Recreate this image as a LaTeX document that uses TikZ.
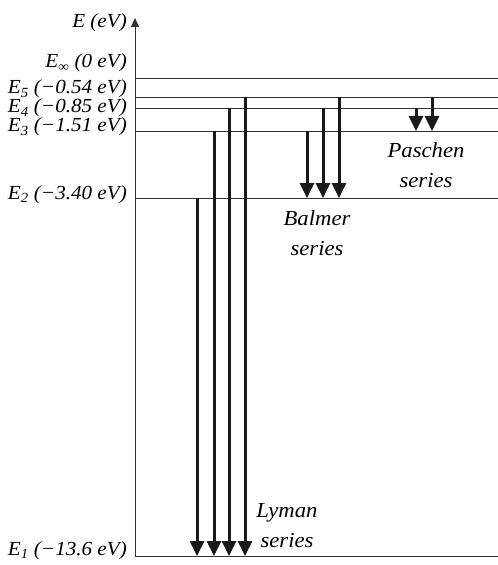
\documentclass[tikz,border=0pt]{standalone}
\usepackage{fontspec}
\setmainfont{Liberation Serif}
\newfontfamily\diafont[FakeStretch=1.06]{Liberation Serif}
\usetikzlibrary{arrows.meta}

\begin{document}
\begin{tikzpicture}[
  x=1bp, y=-1bp,
  level/.style={line width=0.9bp, black!80},
  axis/.style={line width=0.9bp, black!80, -{Triangle[length=9bp, width=8bp]}},
  trans/.style={line width=3bp, black!90, -{Triangle[length=15bp, width=14bp]}},
  lbl/.style={anchor=base east, inner sep=0pt, text=black, font=\diafont\fontsize{20}{24}\selectfont\itshape},
  series/.style={align=center, inner sep=0pt, text=black, font=\diafont\fontsize{21.5}{30}\selectfont\itshape}
]
\useasboundingbox (0,0) rectangle (498,565);

% energy levels
\coordinate (O) at (135,556);
\coordinate (Top) at (135,18);
\coordinate (Einf) at (135,78);
\coordinate (E5) at (135,97);
\coordinate (E4) at (135,108);
\coordinate (E3) at (135,131);
\coordinate (E2) at (135,198);
\coordinate (E1) at (135,556);
\coordinate (R) at (498,0);
\foreach \e in {Einf, E5, E4, E3, E2, E1} {
  \draw[level] (\e) -- (\e -| R);
}
\draw[axis] (O) -- (Top);

% labels
\node[lbl] (lE) at (127,28) {E (eV)};
\node[lbl] (lEinf) at (127,68) {E\textsubscript{∞} (0 eV)};
\node[lbl] (lE5) at (127,94) {E\textsubscript{5} (−0.54 eV)};
\node[lbl] (lE4) at (127,113) {E\textsubscript{4} (−0.85 eV)};
\node[lbl] (lE3) at (127,132) {E\textsubscript{3} (−1.51 eV)};
\node[lbl] (lE2) at (127,199) {E\textsubscript{2} (−3.40 eV)};
\node[lbl] (lE1) at (127,555) {E\textsubscript{1} (−13.6 eV)};

% transitions
\coordinate (ly2) at (197,0);
\coordinate (ly3) at (214,0);
\coordinate (ly4) at (229,0);
\coordinate (ly5) at (245,0);
\coordinate (ba3) at (307,0);
\coordinate (ba4) at (323,0);
\coordinate (ba5) at (339,0);
\coordinate (pa4) at (416,0);
\coordinate (pa5) at (432,0);
\foreach \c/\u in {ly2/E2, ly3/E3, ly4/E4, ly5/E5} {
  \draw[trans] (\c |- \u) -- (\c |- E1);
}
\foreach \c/\u in {ba3/E3, ba4/E4, ba5/E5} {
  \draw[trans] (\c |- \u) -- (\c |- E2);
}
\foreach \c/\u in {pa4/E4, pa5/E5} {
  \draw[trans] (\c |- \u) -- (\c |- E3);
}

\node[series] (lyman) at (287,526) {Lyman\\series};
\node[series] (balmer) at (317,233) {Balmer\\series};
\node[series] (paschen) at (426,165) {Paschen\\series};
\end{tikzpicture}
\end{document}
